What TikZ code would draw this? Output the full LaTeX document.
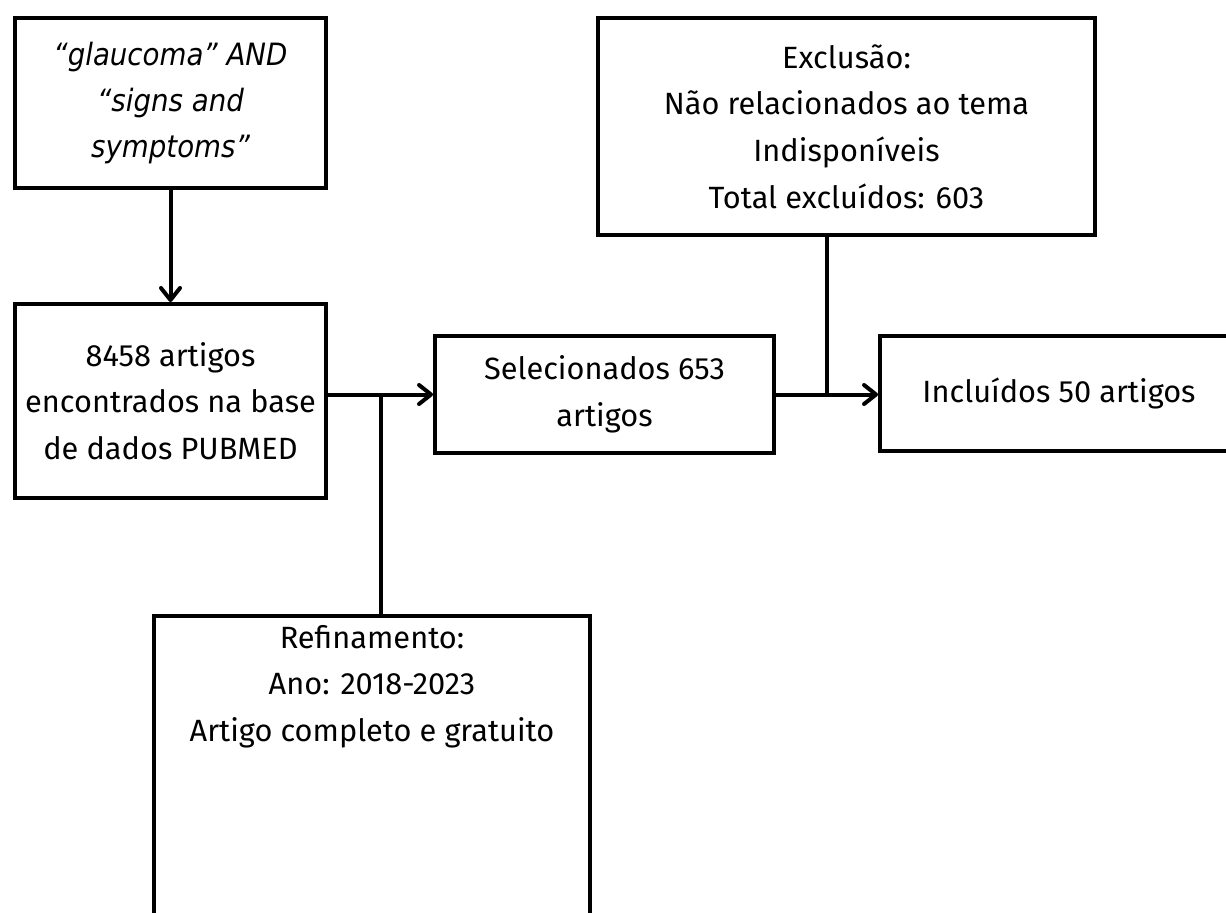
\documentclass[tikz,border=0pt]{standalone}
\usepackage{fontspec}
\setmainfont{Fira Sans}
\newfontfamily\queryfont{DejaVu Sans Condensed Oblique}
\usetikzlibrary{positioning, arrows.meta, calc}

\tikzset{
  stagebox/.style={draw, line width=0.08cm, inner sep=0pt, align=center,
    font=\fontsize{17.5}{26.5}\selectfont},
  flow/.style={line width=0.08cm,
    -{Straight Barb[length=0.24cm, width=0.38cm, line width=0.08cm, round]}},
  joint/.style={line width=0.08cm},
}

\begin{document}
\begin{tikzpicture}[x=0.02cm, y=-0.02cm]
  \path[use as bounding box, clip] (0,0) rectangle (1226,912);

  \node[stagebox, minimum width=6.22cm, minimum height=3.4cm,
        font=\queryfont\fontsize{17.5}{26}\selectfont] (query) at (170.5,103)
        {“glaucoma” AND\\“signs and\\symptoms”};
  \node[stagebox, minimum width=6.22cm, minimum height=3.88cm] (found) at (170.5,401)
        {8458 artigos\\encontrados na base\\de dados PUBMED};
  \node[stagebox, minimum width=6.78cm, minimum height=2.34cm] (sel) at (604.5,394.5)
        {Selecionados 653\\artigos};
  \node[stagebox, minimum width=9.94cm, minimum height=4.34cm] (excl) at (846.5,126.5)
        {Exclusão:\\Não relacionados ao tema\\Indisponíveis\\Total excluídos: 603};
  \node[stagebox, minimum width=7.16cm, minimum height=2.3cm] (incl) at (1059,393.5)
        {Incluídos 50 artigos};
  \node[stagebox, minimum width=8.72cm, minimum height=8cm, anchor=north] (refine) at (372,614) {};
  \node[stagebox, draw=none, below=0.18cm of refine.north] (refinetext)
        {Refinamento:\\Ano: 2018-2023\\Artigo completo e gratuito};

  % connectors
  \draw[flow] (query.south) -- (found.north);
  \draw[flow] (found.east |- sel.west) -- (sel.west);
  \coordinate (split) at ($(found.east |- sel.west)!0.5!(sel.west)$);
  \draw[joint] (split) -- (split |- refine.north);
  \draw[flow] (sel.east) -- (sel.east -| incl.west);
  \coordinate (merge) at ($(sel.east)!0.5!(sel.east -| incl.west)$);
  \draw[joint] (excl.south -| merge) -- (merge);
\end{tikzpicture}
\end{document}
